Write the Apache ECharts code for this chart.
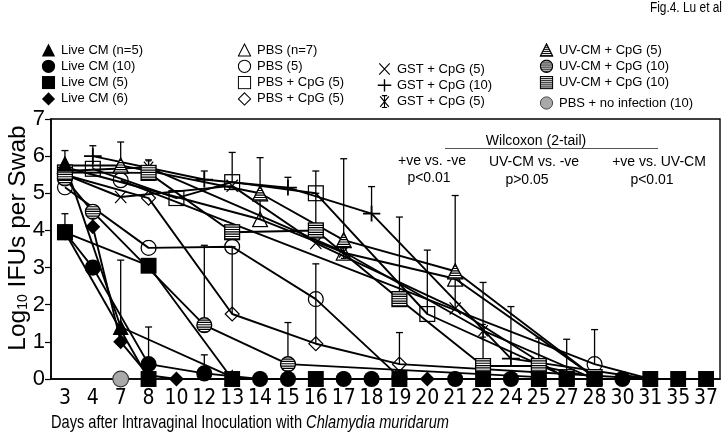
<!DOCTYPE html>
<html><head><meta charset="utf-8">
<script src="https://cdn.jsdelivr.net/npm/echarts@6/dist/echarts.min.js"></script>
<style>html,body{margin:0;padding:0;background:#fff}#c{width:728px;height:437px}</style>
</head><body><div id="c"></div>
<script>
// ---------- data ----------
const days = ['3','4','7','8','10','12','13','14','15','16','17','18','19','20','21','22','24','25','27','28','30','31','35','37'];
const yTicks = [0,1,2,3,4,5,6,7];

// [day, log10 IFUs per swab]
const liveCM_n5  = [[3,5.8],[7,1.4],[13,0.05]];
const liveCM_10  = [[3,3.95],[4,3.0],[8,0.4],[12,0.15],[14,0],[15,0],[17,0],[18,0],[21,0],[24,0],[30,0]];
const liveCM_5   = [[3,3.95],[8,3.05],[13,0],[16,0],[19,0],[22,0],[25,0],[27,0],[28,0],[31,0],[35,0],[37,0]];
const liveCM_5b  = [[3,3.95],[8,0]];
const liveCM_6   = [[4,4.1],[7,1.0],[8,0.1],[10,0],[20,0]];
const pbs_n7     = [[3,5.7],[14,4.3],[17,3.4],[21,2.7],[28,0.05]];
const pbs_5      = [[3,5.16],[8,3.53],[13,3.56],[16,2.15],[19,0.05]];
const pbs_5b     = [[7,5.35],[28,0.4],[31,0]];
const pbsCpG_sq  = [[4,5.66],[10,4.87],[13,5.3],[16,5.0],[20,1.75],[27,0.05]];
const pbsCpG_dia = [[3,5.5],[8,4.87],[13,1.75],[16,0.95],[19,0.4],[31,0]];
const gst5_x     = [[3,5.5],[7,4.9],[13,5.2],[16,3.66],[21,1.9],[27,0]];
const gst10_plus = [[4,6.0],[12,5.37],[15,5.15],[18,4.45],[24,0.55],[31,0]];
const gst5_ast   = [[3,5.6],[8,5.7],[17,3.42],[22,1.3],[28,0]];
const uv5_tri    = [[3,5.75],[7,5.75],[14,5.0],[17,3.74],[21,2.9],[28,0.05]];
const uv10_circ  = [[3,5.4],[4,4.5],[12,1.45],[15,0.4],[25,0.05]];
const uv10_sq    = [[3,5.56],[8,5.55],[13,3.95],[16,4.0],[19,2.15],[22,0.35],[25,0.35],[28,0.05]];
const pbs_noinf  = [[7,0]];

// error bars: [day, low, high]
const errBars = [
 [3,5.8,6.15],[3,3.95,4.45],[4,5.66,6.28],[7,5.75,6.38],[7,1.4,3.2],
 [8,5.7,5.9],[8,0.4,1.4],[12,5.37,5.6],[12,1.45,3.6],[12,0.15,0.65],
 [13,5.3,6.1],[13,1.75,3.56],[14,5.0,5.96],[14,4.3,5.0],[15,5.15,5.43],[15,0.4,1.52],
 [16,5.0,5.6],[16,0.95,3.1],[16,4.0,5.0],[17,3.74,5.93],[18,4.45,5.18],
 [19,2.15,4.36],[19,0.4,1.25],[20,1.75,3.47],[21,2.9,4.94],[21,1.9,2.7],
 [22,0.35,2.6],[24,0.55,1.95],[25,0.35,1.1],[27,0,1.07],[28,0.4,1.33]
];

// ---------- markers ----------
function svgIcon(body){
  return 'image://data:image/svg+xml;charset=utf-8,' + encodeURIComponent(
    '<svg xmlns="http://www.w3.org/2000/svg" width="32" height="32" viewBox="0 0 16 16">' + body + '</svg>');
}
const STR = 'M0 3.2H16M0 5.4H16M0 7.6H16M0 9.8H16M0 12H16M0 14.2H16';
function striped(shape){
  return '<defs><clipPath id="k">' + shape.replace('SHAPE_ATTR','') + '</clipPath></defs>' +
    shape.replace('SHAPE_ATTR','fill="#fff"') +
    '<g clip-path="url(#k)"><path d="' + STR + '" stroke="#000" stroke-width="1.1"/></g>' +
    shape.replace('SHAPE_ATTR','fill="none" stroke="#000" stroke-width="1.3"');
}
const TRI = '<polygon SHAPE_ATTR points="8,1 15.2,15.2 0.8,15.2"/>';
const CIR = '<circle SHAPE_ATTR cx="8" cy="8" r="7"/>';
const SQR = '<rect SHAPE_ATTR x="1" y="1" width="14" height="14"/>';
const MK = {
  triFill: svgIcon('<polygon points="8,0.5 15.6,15.5 0.4,15.5" fill="#000"/>'),
  cirFill: svgIcon('<circle cx="8" cy="8" r="7.6" fill="#000"/>'),
  sqFill:  svgIcon('<rect x="0.5" y="0.5" width="15" height="15" fill="#000"/>'),
  diaFill: svgIcon('<polygon points="8,0.5 15.5,8 8,15.5 0.5,8" fill="#000"/>'),
  triOpen: svgIcon('<polygon points="8,1.2 15,14.9 1,14.9" fill="none" stroke="#000" stroke-width="1.2"/>'),
  cirOpen: svgIcon('<circle cx="8" cy="8" r="7" fill="none" stroke="#000" stroke-width="1.2"/>'),
  sqOpen:  svgIcon('<rect x="1" y="1" width="14" height="14" fill="none" stroke="#000" stroke-width="1.2"/>'),
  diaOpen: svgIcon('<polygon points="8,1 15,8 8,15 1,8" fill="none" stroke="#000" stroke-width="1.2"/>'),
  cross:   svgIcon('<path d="M2 1.5L14 14.5M14 1.5L2 14.5" stroke="#000" stroke-width="1.3" fill="none"/>'),
  plus:    svgIcon('<path d="M0 8H16M8 1V15" stroke="#000" stroke-width="1.6" fill="none"/>'),
  aster:   svgIcon('<path d="M3 2L13 14M13 2L3 14M8 1V15M5 1.2H11M5 14.8H11" stroke="#000" stroke-width="1.3" fill="none"/>'),
  triStr:  svgIcon(striped(TRI)),
  cirStr:  svgIcon(striped(CIR)),
  sqStr:   svgIcon(striped(SQR)),
  cirGray: svgIcon('<circle cx="8" cy="8" r="7" fill="#a9a9a9" stroke="#333" stroke-width="1"/>')
};

// series definitions (name, data, marker, size)
const defs = [
  ['GST + CpG (10)', gst10_plus, 'plus', 18],
  ['GST + CpG (5)', gst5_x, 'cross', 15],
  ['GST + CpG (5) ', gst5_ast, 'aster', 15],
  ['PBS (n=7)', pbs_n7, 'triOpen', 17],
  ['PBS (5)', pbs_5, 'cirOpen', 17],
  ['PBS (5) b', pbs_5b, 'cirOpen', 17],
  ['PBS + CpG (5)', pbsCpG_sq, 'sqOpen', 17],
  ['PBS + CpG (5) ', pbsCpG_dia, 'diaOpen', 16],
  ['UV-CM + CpG (5)', uv5_tri, 'triStr', 17],
  ['UV-CM + CpG (10)', uv10_circ, 'cirStr', 17],
  ['UV-CM + CpG (10) ', uv10_sq, 'sqStr', 17],
  ['Live CM (n=5)', liveCM_n5, 'triFill', 17],
  ['Live CM (6)', liveCM_6, 'diaFill', 16],
  ['Live CM (5) b', liveCM_5b, 'sqFill', 17],
  ['Live CM (10)', liveCM_10, 'cirFill', 17],
  ['Live CM (5)', liveCM_5, 'sqFill', 17],
  ['PBS + no infection (10)', pbs_noinf, 'cirGray', 18]
];
const iconOf = {};
defs.forEach(d => iconOf[d[0]] = MK[d[2]]);

function toRow(pairs){
  const arr = days.map(() => null);
  pairs.forEach(([d, v]) => { arr[days.indexOf(String(d))] = v; });
  return arr;
}

const lineSeries = defs.map(([name, data, mk, size]) => ({
  name, type: 'line', data: toRow(data), connectNulls: true,
  symbol: MK[mk], symbolSize: size, symbolKeepAspect: true, showAllSymbol: true,
  lineStyle: { color: '#000', width: 1.9 }, itemStyle: { color: '#000' },
  animation: false, silent: true
}));

const errSeries = {
  type: 'custom', name: 'err', animation: false, silent: true, z: 3,
  data: errBars.map(([d, lo, hi]) => [days.indexOf(String(d)), lo, hi]),
  encode: { x: 0, y: [1, 2] },
  renderItem: function (params, api) {
    const i = api.value(0);
    const a = api.coord([i, api.value(1)]);
    const b = api.coord([i, api.value(2)]);
    return { type: 'group', children: [
      { type: 'line', shape: { x1: a[0], y1: a[1], x2: b[0], y2: b[1] }, style: { stroke: '#000', lineWidth: 1.3 } },
      { type: 'line', shape: { x1: b[0] - 3.5, y1: b[1], x2: b[0] + 3.5, y2: b[1] }, style: { stroke: '#000', lineWidth: 1.3 } }
    ]};
  }
};

const FONT = "'Liberation Sans', Arial, sans-serif";
const COND = "'DejaVu Sans Condensed', 'Liberation Sans', sans-serif";
function legendCol(left, top, names){
  return {
    orient: 'vertical', left, top, itemGap: 2.3, itemWidth: 15, itemHeight: 14,
    selectedMode: false, textStyle: { fontSize: 13, color: '#000', fontFamily: FONT },
    lineStyle: { opacity: 0 },
    data: names.map(n => ({ name: n, icon: iconOf[n] }))
  };
}

const chart = echarts.init(document.getElementById('c'), null, { renderer: 'canvas' });
chart.setOption({
  backgroundColor: '#fff',
  animation: false,
  legend: [
    legendCol(36, 38, ['Live CM (n=5)', 'Live CM (10)', 'Live CM (5)', 'Live CM (6)']),
    legendCol(232, 38, ['PBS (n=7)', 'PBS (5)', 'PBS + CpG (5)', 'PBS + CpG (5) ']),
    legendCol(372, 57, ['GST + CpG (5)', 'GST + CpG (10)', 'GST + CpG (5) ']),
    legendCol(534, 38, ['UV-CM + CpG (5)', 'UV-CM + CpG (10)', 'UV-CM + CpG (10) ']),
    legendCol(534, 91, ['PBS + no infection (10)'])
  ],
  grid: { left: 51, right: 8, top: 119, bottom: 58, show: true, borderColor: '#000', borderWidth: 1.4, containLabel: false },
  xAxis: {
    type: 'category', data: days, boundaryGap: true,
    axisLine: { lineStyle: { color: '#000', width: 1.6 } },
    axisTick: { alignWithLabel: true, length: 4, lineStyle: { color: '#000', width: 1 } },
    axisLabel: { interval: 0, color: '#000', fontSize: 21, fontFamily: COND, margin: 9 },
    splitLine: { show: false }
  },
  yAxis: {
    type: 'value', min: yTicks[0], max: yTicks[yTicks.length - 1], interval: 1,
    axisLine: { show: true, lineStyle: { color: '#000', width: 1.6 } },
    axisTick: { show: true, length: 6, lineStyle: { color: '#000', width: 1.2 } },
    axisLabel: { color: '#000', fontSize: 22, fontFamily: FONT, margin: 6 },
    splitLine: { show: false }
  },
  graphic: [
    { type: 'text', x: 722, y: 8, scaleX: 0.85, style: { text: 'Fig.4. Lu et al', fontSize: 14, fontFamily: FONT, fill: '#000', align: 'right', verticalAlign: 'middle' } },
    { type: 'text', x: 18, y: 238, rotation: Math.PI / 2, style: {
        text: 'Log{s|10} IFUs per Swab', fontSize: 24.5, fontFamily: FONT, fill: '#000',
        align: 'center', verticalAlign: 'middle',
        rich: { s: { fontSize: 14, fontFamily: FONT, verticalAlign: 'bottom', padding: [9, 0, 0, 0] } } } },
    { type: 'text', x: 51, y: 423, scaleX: 0.79, style: {
        text: 'Days after Intravaginal Inoculation with {i|Chlamydia muridarum}', fontSize: 18.5, fontFamily: FONT, fill: '#000',
        align: 'left', verticalAlign: 'middle',
        rich: { i: { fontSize: 18.5, fontFamily: FONT, fontStyle: 'italic' } } } },
    { type: 'line', shape: { x1: 445, y1: 148.5, x2: 658, y2: 148.5 }, style: { stroke: '#555', lineWidth: 1 } },
    { type: 'text', x: 536, y: 141, style: { text: 'Wilcoxon (2-tail)', fontSize: 14, fontFamily: FONT, fill: '#000', align: 'center', verticalAlign: 'middle' } },
    { type: 'text', x: 432, y: 161, style: { text: '+ve vs. -ve', fontSize: 14, fontFamily: FONT, fill: '#000', align: 'center', verticalAlign: 'middle' } },
    { type: 'text', x: 429, y: 178, style: { text: 'p<0.01', fontSize: 14, fontFamily: FONT, fill: '#000', align: 'center', verticalAlign: 'middle' } },
    { type: 'text', x: 534, y: 162, style: { text: 'UV-CM vs. -ve', fontSize: 14, fontFamily: FONT, fill: '#000', align: 'center', verticalAlign: 'middle' } },
    { type: 'text', x: 527, y: 180, style: { text: 'p>0.05', fontSize: 14, fontFamily: FONT, fill: '#000', align: 'center', verticalAlign: 'middle' } },
    { type: 'text', x: 659, y: 162, style: { text: '+ve vs. UV-CM', fontSize: 14, fontFamily: FONT, fill: '#000', align: 'center', verticalAlign: 'middle' } },
    { type: 'text', x: 652, y: 180, style: { text: 'p<0.01', fontSize: 14, fontFamily: FONT, fill: '#000', align: 'center', verticalAlign: 'middle' } }
  ],
  series: [errSeries].concat(lineSeries)
});
</script>
</body></html>
